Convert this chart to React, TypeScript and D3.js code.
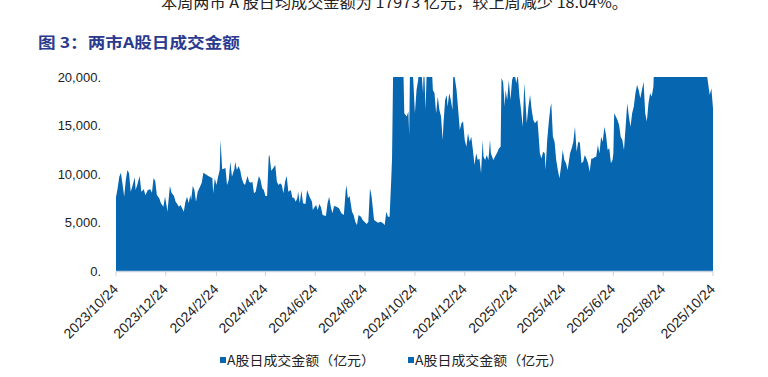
import React from "react";
import * as d3 from "d3";

const headline = "本周两市 A 股日均成交金额为 17973 亿元，较上周减少 18.04%。";
const title = "图 3：两市A股日成交金额";
const legendLabels = ["A股日成交金额（亿元）", "A股日成交金额（亿元）"];
const yTicks = [0, 5000, 10000, 15000, 20000];
const xTickLabels = [
  "2023/10/24", "2023/12/24", "2024/2/24", "2024/4/24", "2024/6/24", "2024/8/24",
  "2024/10/24", "2024/12/24", "2025/2/24", "2025/4/24", "2025/6/24", "2025/8/24", "2025/10/24",
];

const dates = [
  "2023-10-24","2023-10-26","2023-10-28","2023-10-30","2023-11-02","2023-11-03","2023-11-05","2023-11-07","2023-11-09","2023-11-11",
  "2023-11-13","2023-11-16","2023-11-17","2023-11-19","2023-11-22","2023-11-24","2023-11-27","2023-11-29","2023-12-02","2023-12-05",
  "2023-12-07","2023-12-09","2023-12-11","2023-12-13","2023-12-16","2023-12-18","2023-12-21","2023-12-23","2023-12-25","2023-12-26",
  "2023-12-29","2023-12-31","2024-01-03","2024-01-05","2024-01-07","2024-01-09","2024-01-11","2024-01-13","2024-01-15","2024-01-17",
  "2024-01-19","2024-01-21","2024-01-23","2024-01-24","2024-01-26","2024-01-28","2024-01-30","2024-02-01","2024-02-04","2024-02-06",
  "2024-02-08","2024-02-14","2024-02-19","2024-02-20","2024-02-22","2024-02-24","2024-02-26","2024-02-28","2024-02-29","2024-03-02",
  "2024-03-04","2024-03-06","2024-03-08","2024-03-10","2024-03-12","2024-03-14","2024-03-17","2024-03-18","2024-03-20","2024-03-22",
  "2024-03-24","2024-03-26","2024-03-28","2024-03-30","2024-04-02","2024-04-04","2024-04-06","2024-04-08","2024-04-10","2024-04-12",
  "2024-04-14","2024-04-16","2024-04-18","2024-04-20","2024-04-22","2024-04-24","2024-04-26","2024-04-28","2024-04-29","2024-05-01",
  "2024-05-03","2024-05-06","2024-05-08","2024-05-10","2024-05-12","2024-05-14","2024-05-16","2024-05-18","2024-05-20","2024-05-22",
  "2024-05-25","2024-05-27","2024-05-29","2024-05-31","2024-06-02","2024-06-03","2024-06-05","2024-06-07","2024-06-09","2024-06-12",
  "2024-06-14","2024-06-17","2024-06-20","2024-06-21","2024-06-23","2024-06-25","2024-06-27","2024-06-29","2024-07-01","2024-07-03",
  "2024-07-07","2024-07-09","2024-07-11","2024-07-13","2024-07-15","2024-07-17","2024-07-20","2024-07-23","2024-07-26","2024-07-29",
  "2024-07-31","2024-08-01","2024-08-03","2024-08-05","2024-08-08","2024-08-10","2024-08-12","2024-08-14","2024-08-16","2024-08-19",
  "2024-08-21","2024-08-26","2024-08-28","2024-08-30","2024-09-01","2024-09-04","2024-09-07","2024-09-09","2024-09-12","2024-09-15",
  "2024-09-17","2024-09-19","2024-09-21","2024-09-23","2024-09-25","2024-09-26","2024-09-28","2024-09-30","2024-10-08","2024-10-09",
  "2024-10-10","2024-10-11","2024-10-14","2024-10-16","2024-10-17","2024-10-18","2024-10-20","2024-10-22","2024-10-24","2024-10-26",
  "2024-10-28","2024-10-29","2024-11-01","2024-11-03","2024-11-04","2024-11-06","2024-11-08","2024-11-11","2024-11-14","2024-11-15",
  "2024-11-17","2024-11-19","2024-11-21","2024-11-23","2024-11-25","2024-11-27","2024-11-28","2024-11-30","2024-12-02","2024-12-03",
  "2024-12-05","2024-12-07","2024-12-09","2024-12-10","2024-12-12","2024-12-14","2024-12-16","2024-12-18","2024-12-20","2024-12-22",
  "2024-12-24","2024-12-26","2024-12-28","2024-12-30","2025-01-01","2025-01-03","2025-01-05","2025-01-07","2025-01-09","2025-01-11",
  "2025-01-13","2025-01-15","2025-01-16","2025-01-18","2025-01-20","2025-01-22","2025-01-24","2025-01-25","2025-01-28","2025-01-30",
  "2025-02-02","2025-02-04","2025-02-06","2025-02-07","2025-02-09","2025-02-11","2025-02-12","2025-02-14","2025-02-16","2025-02-18",
  "2025-02-20","2025-02-23","2025-02-25","2025-02-27","2025-03-01","2025-03-03","2025-03-05","2025-03-07","2025-03-08","2025-03-10",
  "2025-03-12","2025-03-14","2025-03-16","2025-03-18","2025-03-20","2025-03-23","2025-03-24","2025-03-26","2025-03-28","2025-03-30",
  "2025-04-01","2025-04-02","2025-04-04","2025-04-06","2025-04-08","2025-04-09","2025-04-11","2025-04-13","2025-04-15","2025-04-17",
  "2025-04-19","2025-04-21","2025-04-23","2025-04-25","2025-04-27","2025-04-29","2025-05-02","2025-05-04","2025-05-06","2025-05-08",
  "2025-05-10","2025-05-12","2025-05-14","2025-05-16","2025-05-18","2025-05-20","2025-05-22","2025-05-24","2025-05-26","2025-05-28",
  "2025-05-30","2025-06-01","2025-06-03","2025-06-05","2025-06-07","2025-06-09","2025-06-11","2025-06-13","2025-06-15","2025-06-17",
  "2025-06-19","2025-06-21","2025-06-23","2025-06-24","2025-06-25","2025-06-27","2025-06-29","2025-07-01","2025-07-03","2025-07-05",
  "2025-07-07","2025-07-09","2025-07-11","2025-07-13","2025-07-15","2025-07-17","2025-07-19","2025-07-21","2025-07-23","2025-07-25",
  "2025-07-27","2025-07-29","2025-07-31","2025-08-02","2025-08-04","2025-08-06","2025-08-08","2025-08-10","2025-08-12","2025-08-13",
  "2025-08-15","2025-08-18","2025-08-25","2025-09-01","2025-09-05","2025-09-10","2025-09-18","2025-09-25","2025-09-30","2025-10-09",
  "2025-10-14","2025-10-16","2025-10-18","2025-10-20","2025-10-22","2025-10-24",
];

const turnover = [
  7600,8530,9720,10130,8350,7660,9380,10410,10070,8180,
  8700,9660,8350,8870,9800,8180,8420,7800,8350,8420,
  8070,9560,9310,7840,7490,6980,6630,7660,6700,6120,
  8760,8070,7730,7150,6910,6630,6800,6460,6120,7150,
  7660,6980,7840,7320,8760,8350,7150,8180,8700,9110,
  10130,9800,9560,8010,9560,8870,9720,10410,13510,10480,
  10550,10620,8870,9380,11270,9720,10550,11270,10410,10790,
  10410,9560,9040,8870,9800,9210,9110,9210,8010,8180,
  9040,9800,9380,8530,8350,7730,7730,11790,11960,10340,
  10550,10930,9210,8870,9040,8870,8010,9210,9800,8180,
  8350,7560,7560,7150,7490,8180,6980,8290,6980,6910,
  8350,7660,7150,6290,6560,6800,6290,6910,6560,5770,
  5670,6980,7660,6630,5950,6700,6630,6460,5950,5770,
  8010,8870,7490,7730,6120,5770,5080,4740,5770,5600,
  5260,4850,5080,8530,7660,5260,5080,4980,5080,4910,
  4740,6120,5600,5600,9380,11610,25000,26000,34800,22700,
  20300,16260,15920,16440,14020,21000,21500,19700,16260,18660,
  19690,21000,20500,18320,22000,16600,22000,21500,20500,18660,
  18320,16260,17980,16600,15920,13510,15230,17630,18150,16940,
  18320,17630,16600,20500,19800,18660,16600,14540,15230,15400,
  13510,12820,14190,13330,13850,12480,10930,12130,11440,11610,
  10070,13510,11790,11440,11960,11440,13510,12130,11440,11790,
  12230,12650,12820,19900,19480,16940,18660,17630,19690,17630,
  19690,20500,19350,20200,17980,16600,14880,19350,17980,15230,
  16940,18150,16600,15570,15230,15570,14540,12130,11610,12300,
  12130,10410,13510,15400,16940,17290,13850,13330,11440,10410,
  9560,10790,12480,11440,11100,10410,12130,12650,13330,14880,
  12300,13330,13230,11100,11270,11960,11610,11100,10240,11610,
  11610,11720,11790,12990,12130,13850,13330,14880,14020,12480,
  12650,11100,11440,12130,16260,15920,15570,15060,13850,13510,
  12480,14880,17290,15920,14880,16260,16940,18320,19170,18660,
  17800,18660,19520,16260,15400,17290,18320,17980,19000,21500,
  22500,27800,31800,27500,24500,24000,31600,24000,21800,27000,
  26000,20500,19350,18150,18830,16770,
];

const W = 768;
const H = 377;
const plot = { left: 116, right: 713, top: 77, bottom: 271 };
const fill = "#0666AF";

export default function App() {
  const parseDay = d3.timeParse("%Y-%m-%d");
  const parseTick = d3.timeParse("%Y/%m/%d");
  const data = dates.map((d, i) => ({ date: parseDay(d) as Date, value: turnover[i] }));
  const tickDates = xTickLabels.map((t) => parseTick(t) as Date);

  const x = d3
    .scaleTime()
    .domain([tickDates[0], tickDates[tickDates.length - 1]])
    .range([plot.left, plot.right]);
  const y = d3.scaleLinear().domain([0, 20000]).range([plot.bottom, plot.top]);

  const area = d3
    .area<{ date: Date; value: number }>()
    .x((d) => x(d.date))
    .y0(y(0))
    .y1((d) => y(d.value))
    .curve(d3.curveLinear);

  const fmt = d3.format(",");
  const sans = "'Liberation Sans', Arial, sans-serif";
  const cjk = "'Noto Sans CJK SC', 'Noto Sans', sans-serif";

  return (
    <svg
      width={W}
      height={H}
      viewBox={`0 0 ${W} ${H}`}
      style={{ position: "absolute", left: 0, top: 0, background: "#fff" }}
    >
      <defs>
        <clipPath id="plotClip">
          <rect x={plot.left} y={plot.top} width={plot.right - plot.left} height={plot.bottom - plot.top} />
        </clipPath>
      </defs>

      <text x={161} y={8} fontFamily={cjk} fontSize={15} fill="#222" textLength={467} lengthAdjust="spacingAndGlyphs">
        {headline}
      </text>
      <text x={38} y={48} fontFamily={cjk} fontSize={15} fontWeight="bold" fill="#2B3A8F" textLength={202} lengthAdjust="spacingAndGlyphs">
        {title}
      </text>

      <path d={area(data) || ""} fill={fill} clipPath="url(#plotClip)" />

      {yTicks.map((t) => (
        <text key={t} x={101} y={y(t)} dy="0.36em" textAnchor="end" fontFamily={sans} fontSize={13} fill="#222">
          {fmt(t) + "."}
        </text>
      ))}

      <line x1={plot.left} x2={plot.right} y1={plot.bottom + 0.5} y2={plot.bottom + 0.5} stroke="#C5D2E2" strokeWidth={1.5} />
      {tickDates.map((d, i) => (
        <line key={"t" + i} x1={x(d)} x2={x(d)} y1={plot.bottom + 1} y2={plot.bottom + 5} stroke="#D0D0D0" strokeWidth={1} />
      ))}
      {tickDates.map((d, i) => (
        <text
          key={"l" + i}
          transform={`translate(${x(d) + 3},${plot.bottom + 19}) rotate(-45)`}
          textAnchor="end"
          fontFamily={sans}
          fontSize={14}
          fill="#222"
        >
          {xTickLabels[i]}
        </text>
      ))}

      {legendLabels.map((l, i) => {
        const lx = i === 0 ? 220 : 408;
        return (
          <g key={"lg" + i}>
            <rect x={lx} y={357} width={6} height={6} fill={fill} />
            <text x={lx + 7} y={365} fontFamily={cjk} fontSize={13} fill="#222" textLength={148} lengthAdjust="spacingAndGlyphs">
              {l}
            </text>
          </g>
        );
      })}
    </svg>
  );
}
